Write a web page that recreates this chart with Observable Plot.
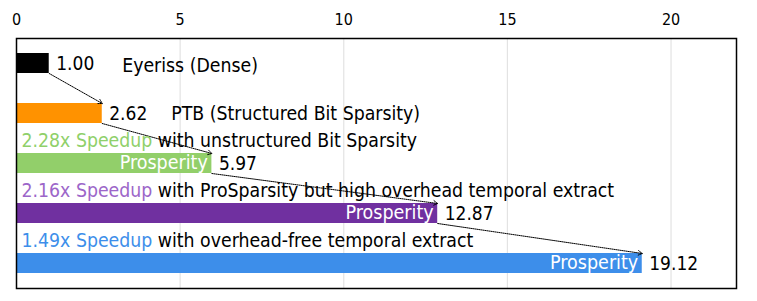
<!DOCTYPE html>
<html>
<head>
<meta charset="utf-8">
<script src="https://cdn.jsdelivr.net/npm/d3@7"></script>
<script src="https://cdn.jsdelivr.net/npm/@observablehq/plot@0.6"></script>
<style>
  html, body { margin: 0; padding: 0; background: #fff; }
  #chart svg { display: block; }
</style>
</head>
<body>
<div id="chart"></div>
<script>
const FONT = '"DejaVu Sans Condensed", "DejaVu Sans", sans-serif';

// ---- data ----
const categories = ["Eyeriss (Dense)", "PTB (Structured Bit Sparsity)", "Prosperity A", "Prosperity B", "Prosperity C"];
const speedups = [1.00, 2.62, 5.97, 12.87, 19.12];
const valueLabels = ["1.00", "2.62", "5.97", "12.87", "19.12"];
const barColors = ["#000000", "#ff9200", "#92cf6a", "#7030a0", "#3d8eea"];
const innerLabels = ["", "", "Prosperity", "Prosperity", "Prosperity"];
const stepSpeedups = ["", "", "2.28x Speedup", "2.16x Speedup", "1.49x Speedup"];
const stepDescriptions = ["", "", "with unstructured Bit Sparsity", "with ProSparsity but high overhead temporal extract", "with overhead-free temporal extract"];
const stepColors = ["", "", "#8fd06a", "#9c66c9", "#3d8eea"];
const xTicks = [0, 5, 10, 15, 20];

// ---- derived tables ----
const rows = categories.map((c, i) => ({
  i, name: c, value: speedups[i], label: valueLabels[i], color: barColors[i],
  inner: innerLabels[i], step: stepSpeedups[i], desc: stepDescriptions[i], stepColor: stepColors[i]
}));
const pairs = rows.slice(1).map((r, k) => ({from: rows[k], to: r}));
const stepRows = rows.filter(r => r.step);
const innerRows = rows.filter(r => r.inner);

const canvas = document.createElement("canvas");
const ctx = canvas.getContext("2d");
function measure(text, size) {
  ctx.font = `${size}px ${FONT}`;
  return ctx.measureText(text).width;
}

const LABEL_SIZE = 19.3;
const BAR_HALF = 0.2;
const STEP_OFFSET = 0.45;

const marks = [
  Plot.gridX(xTicks.filter(d => d > 0), {stroke: "#e3e3e3", strokeOpacity: 1, strokeWidth: 1.2}),
  Plot.rect(rows, {x1: 0, x2: "value", y1: d => d.i - BAR_HALF, y2: d => d.i + BAR_HALF, fill: "color"}),
  Plot.arrow(pairs, {
    x1: d => d.from.value, y1: d => d.from.i + BAR_HALF,
    x2: d => d.to.value, y2: d => d.to.i - BAR_HALF,
    stroke: "#000", strokeWidth: 1, strokeDasharray: "1,1", headLength: 7, bend: 0
  }),
  Plot.text(rows, {x: "value", y: "i", text: "label", textAnchor: "start", dx: 7, fontSize: 19, fill: "#000"}),
  Plot.text(innerRows, {x: "value", y: "i", text: "inner", textAnchor: "end", dx: -4, dy: -1, fontSize: 19.5, fill: "#fff"}),
  Plot.text([rows[0]], {x: "value", y: "i", text: "name", textAnchor: "start", dx: 73, dy: 2, fontSize: LABEL_SIZE, fill: "#000"}),
  Plot.text([rows[1]], {x: "value", y: "i", text: "name", textAnchor: "start", dx: 69, fontSize: LABEL_SIZE, fill: "#000"}),
  Plot.text(stepRows, {x: 0, y: d => d.i - STEP_OFFSET, text: "step", textAnchor: "start", dx: 5, fontSize: LABEL_SIZE, fill: "stepColor"}),
  ...stepRows.map(r => Plot.text([r], {
    x: 0, y: d => d.i - STEP_OFFSET, text: "desc", textAnchor: "start",
    dx: 5 + measure(r.step + " ", LABEL_SIZE), fontSize: LABEL_SIZE, fill: "#000"
  })),
  Plot.frame({stroke: "#000", strokeWidth: 1.5}),
  Plot.axisX(xTicks, {anchor: "top", tickSize: 0, tickPadding: 14, fontSize: 16, fill: "#000", label: null})
];

const chart = Plot.plot({
  width: 757,
  height: 301,
  marginLeft: 16,
  marginRight: 21,
  marginTop: 38,
  marginBottom: 13,
  style: {fontFamily: FONT, background: "#fff", color: "#000"},
  x: {domain: [0, 22], axis: null},
  y: {domain: [-0.5, 4.5], reverse: true, axis: null},
  color: {type: "identity"},
  marks
});
document.getElementById("chart").appendChild(chart);
</script>
</body>
</html>
